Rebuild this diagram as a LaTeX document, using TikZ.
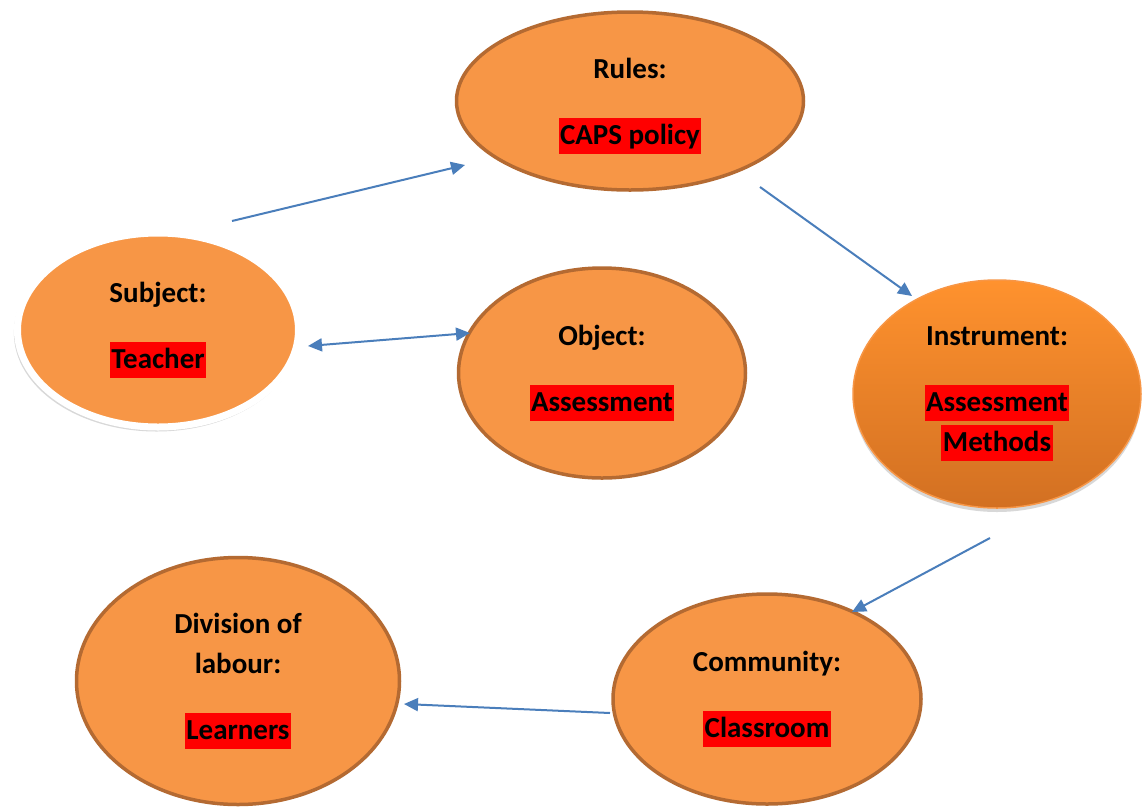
\documentclass[tikz,border=0pt]{standalone}
\usepackage{fontspec}
\setmainfont{Carlito}
\usetikzlibrary{shapes.geometric, arrows.meta, shadows}

\definecolor{bubblefill}{HTML}{F79646}
\definecolor{rim}{HTML}{B46A32}
\definecolor{shadetop}{HTML}{FF922E}
\definecolor{shadebottom}{HTML}{D27022}
\definecolor{linkblue}{HTML}{4A7EBB}
\definecolor{markred}{HTML}{FF0000}
\newcommand{\redmark}[1]{{\setlength{\fboxsep}{0pt}\colorbox{markred}{\rule[-9pt]{0pt}{36pt}\hspace{1.5pt}#1\hspace{1.5pt}}}}

\begin{document}
\begin{tikzpicture}[
        x=1pt, y=-1pt,
        bubble/.style={ellipse, draw=rim, line width=3.5pt, fill=bubblefill, align=center, inner sep=0pt, font=\fontsize{29}{40}\selectfont\bfseries},
        link/.style={draw=linkblue, line width=2pt, >={Triangle[length=14pt, width=13pt]}}
    ]
    \fill[white] (0,0) rectangle (1144,807);
    \useasboundingbox (0,0) rectangle (1144,807);

    \node[bubble, minimum width=347pt, minimum height=178pt] (rules) at (630,101) {\rule{0pt}{30pt}Rules:\\[26pt]\redmark{CAPS policy}};
    \node[bubble, draw=white, line width=7pt, drop shadow={opacity=0.3, shadow xshift=-1.5pt, shadow yshift=-3pt, shadow scale=1.015}, minimum width=281pt, minimum height=194pt] (subject) at (158,330) {Subject:\\[26pt]\redmark{Teacher}};
    \node[bubble, minimum width=287pt, minimum height=210pt] (object) at (602,373) {Object:\\[26pt]\redmark{Assessment}};
    \node[bubble, draw=bubblefill, line width=1.5pt, top color=shadetop, bottom color=shadebottom, drop shadow={opacity=0.3, shadow xshift=0pt, shadow yshift=-4pt}, minimum width=288pt, minimum height=228pt] (instrument) at (997,394) {Instrument:\\[26pt]\redmark{Assessment}\\\redmark{Methods}};
    \node[bubble, minimum width=323pt, minimum height=247pt] (division) at (238,681) {Division of\\labour:\\[26pt]\redmark{Learners}};
    \node[bubble, minimum width=308pt, minimum height=210pt] (community) at (767,699) {Community:\\[26pt]\redmark{Classroom}};

    % free ends of the connectors
    \coordinate (subject-out) at (232,221);
    \coordinate (rules-in) at (465,165);
    \coordinate (rules-out) at (760,187);
    \coordinate (instrument-in) at (912,296);
    \coordinate (subject-end) at (308,346);
    \coordinate (object-end) at (470,333);
    \coordinate (instrument-out) at (990,538);
    \coordinate (community-in) at (852,612);
    \coordinate (community-out) at (610,713);
    \coordinate (division-in) at (404,704);

    \draw[link, ->] (subject-out) -- (rules-in);
    \draw[link, ->] (rules-out) -- (instrument-in);
    \draw[link, <->] (subject-end) -- (object-end);
    \draw[link, ->] (instrument-out) -- (community-in);
    \draw[link, ->] (community-out) -- (division-in);
\end{tikzpicture}
\end{document}
